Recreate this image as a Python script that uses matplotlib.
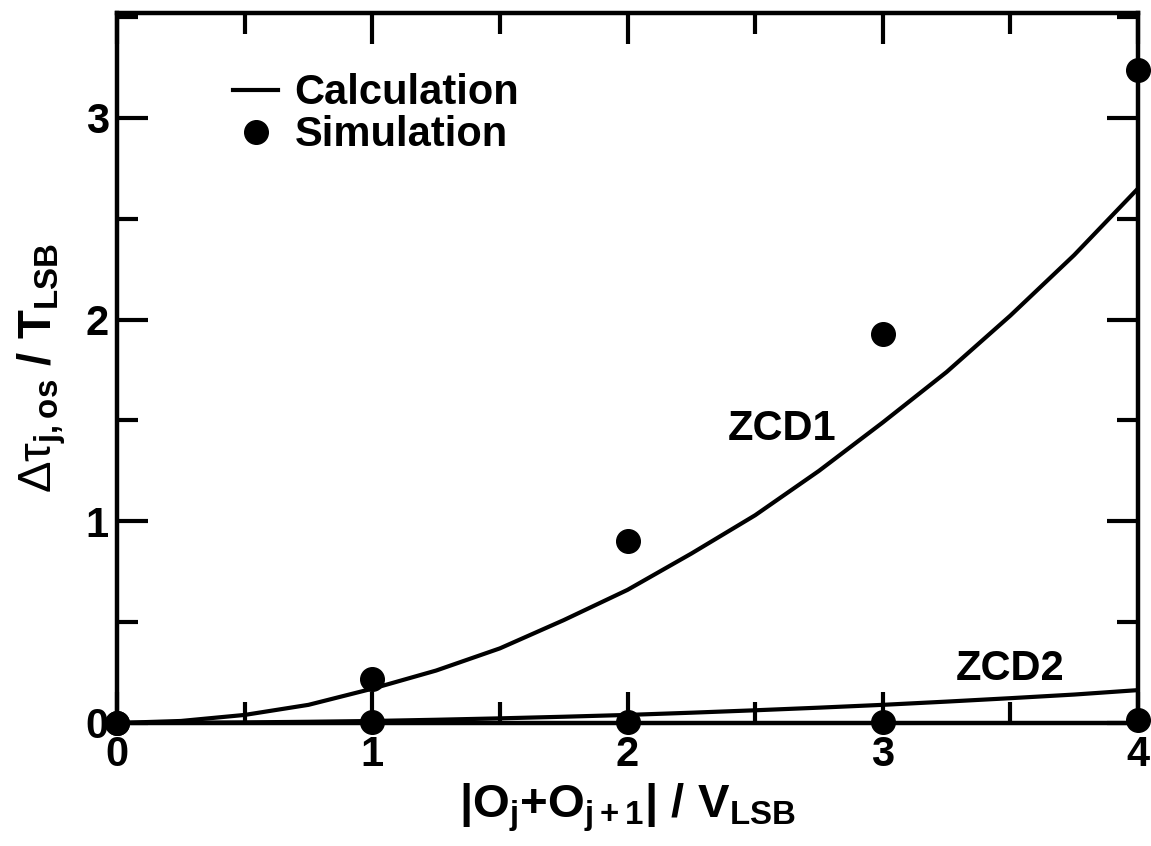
import numpy as np
import matplotlib
matplotlib.use("Agg")
import matplotlib.pyplot as plt
from matplotlib.ticker import MultipleLocator

plt.rcParams['font.family'] = ['Liberation Sans', 'DejaVu Sans']
plt.rcParams['font.weight'] = 'bold'
plt.rcParams['mathtext.fontset'] = 'custom'
plt.rcParams['mathtext.rm'] = 'Liberation Sans:bold'
plt.rcParams['mathtext.it'] = 'Liberation Sans:bold'
plt.rcParams['mathtext.bf'] = 'Liberation Sans:bold'
plt.rcParams['mathtext.sf'] = 'Liberation Sans:normal'
plt.rcParams['mathtext.default'] = 'rm'

# calculation curves
calc_x = [0, 0.25, 0.5, 0.75, 1.0, 1.25, 1.5, 1.75, 2.0, 2.25, 2.5, 2.75, 3.0, 3.25, 3.5, 3.75, 4.0]
zcd1_calc = [0, 0.01, 0.04, 0.09, 0.17, 0.26, 0.37, 0.51, 0.66, 0.84, 1.03, 1.25, 1.49, 1.74, 2.02, 2.32, 2.65]
zcd2_calc = [0, 0.001, 0.003, 0.006, 0.01, 0.016, 0.023, 0.031, 0.04, 0.051, 0.063, 0.076, 0.09, 0.106, 0.123, 0.141, 0.163]

# simulation points
sim_x = [0, 1, 2, 3, 4]
zcd1_sim = [0, 0.22, 0.90, 1.93, 3.24]
zcd2_sim = [0, 0.003, 0.003, 0.005, 0.015]

fig = plt.figure(figsize=(11.51, 8.46), dpi=100)
ax = fig.add_axes([0.1017, 0.1454, 0.887, 0.8392])

lw = 3.0
ax.plot(calc_x, zcd1_calc, color='black', lw=lw, label='Calculation')
ax.plot(calc_x, zcd2_calc, color='black', lw=lw)
ax.plot(sim_x, zcd1_sim, 'o', color='black', ms=17, label='Simulation', clip_on=False)
ax.plot(sim_x, zcd2_sim, 'o', color='black', ms=17, clip_on=False)

ax.text(2.605, 1.46, 'ZCD1', fontsize=30, fontweight='bold', ha='center', va='center')
ax.text(3.5, 0.27, 'ZCD2', fontsize=30, fontweight='bold', ha='center', va='center')

ax.set_xlim(0, 4)
ax.set_ylim(0, 3.52)
ax.xaxis.set_major_locator(MultipleLocator(1))
ax.xaxis.set_minor_locator(MultipleLocator(0.5))
ax.yaxis.set_major_locator(MultipleLocator(1))
ax.yaxis.set_minor_locator(MultipleLocator(0.5))
ax.tick_params(which='both', direction='in', top=True, right=True, width=3, labelsize=30)
ax.tick_params(which='major', length=22)
ax.tick_params(which='minor', length=15)
ax.tick_params(axis='x', pad=9)
ax.tick_params(axis='y', pad=6)
for lab in ax.get_xticklabels() + ax.get_yticklabels():
    lab.set_fontweight('bold')
for sp in ax.spines.values():
    sp.set_linewidth(3.2)

ax.set_xlabel(r'|O$_{j}$+O$_{j+1}$| / V$_{LSB}$', fontsize=34, fontweight='bold', labelpad=4)
ax.set_ylabel(r'$\mathsf{\Delta\tau}_{j,os}$ / T$_{LSB}$', fontsize=34, fontweight='bold')
ax.yaxis.set_label_coords(-0.048, 0.5)

leg = ax.legend(loc='upper left', bbox_to_anchor=(0.1136, 0.915), frameon=False, fontsize=30,
                handlelength=1.08, handletextpad=0.4, labelspacing=0.05, borderpad=0,
                borderaxespad=0)
for t in leg.get_texts():
    t.set_fontweight('bold')

fig.savefig('out.png', dpi=100)
